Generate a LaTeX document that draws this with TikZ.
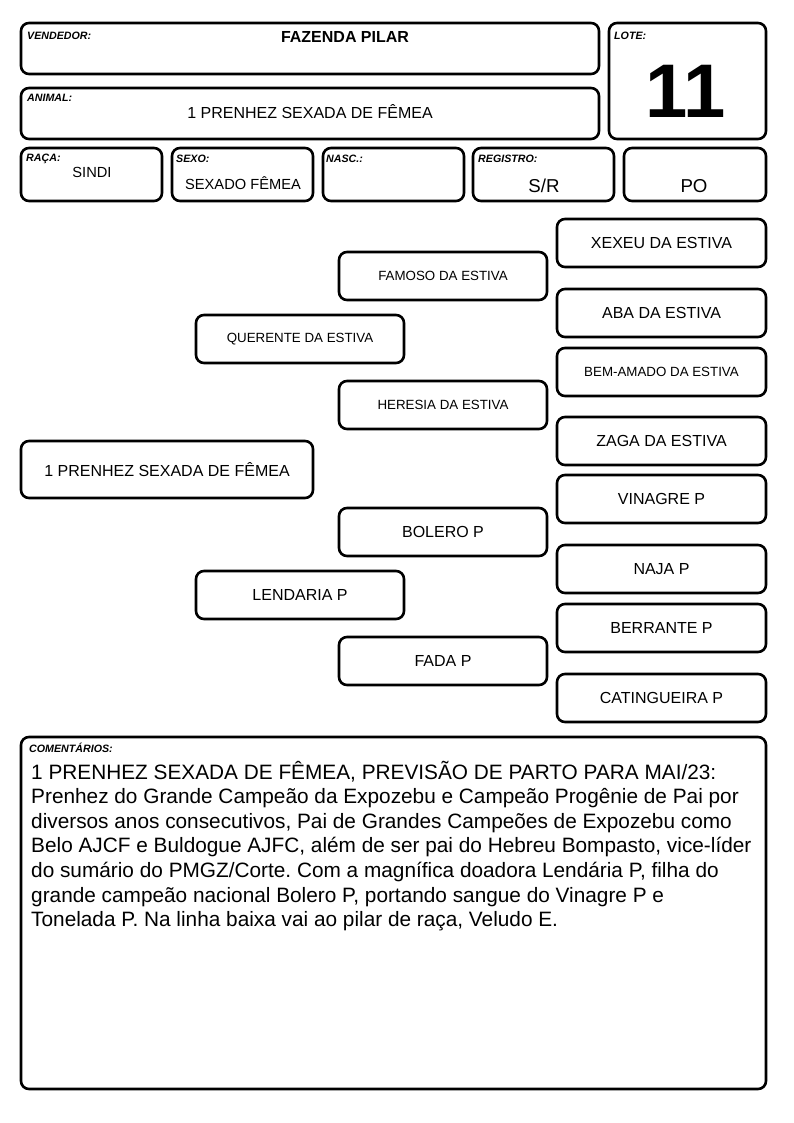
\documentclass[tikz,border=0pt]{standalone}
\usepackage{fontspec}
\setmainfont{Liberation Sans}
\frenchspacing
\newcommand{\fs}[1]{\fontsize{#1}{#1}\selectfont}
\tikzset{
  box/.style={draw, line width=2.6pt, rounded corners=8pt, inner sep=0pt},
  lbl/.style={anchor=base west, inner sep=0pt, font=\fs{10.67}\bfseries\itshape},
  val/.style={anchor=base, inner sep=0pt},
  com/.style={anchor=base west, inner sep=0pt, font=\fontsize{20.8}{24.6}\selectfont},
  big/.style={font=\fs{16}},
  small/.style={font=\fs{13.33}}
}
% \pbox[style]{name}{x1}{y1}{x2}{y2}{text}
\newcommand{\pbox}[7][]{%
  \node[box,#1,minimum width={(#5-#3)*1pt},minimum height={(#6-#4)*1pt}] (#2) at ({(#3+#5)/2},{(#4+#6)/2}) {#7};}
\begin{document}
\begin{tikzpicture}[x=1pt,y=-1pt]
\useasboundingbox (0,0) rectangle (794,1123);
% header
\pbox{vend}{21}{23}{599}{74}{}
\pbox{animal}{21}{88}{599}{139}{}
\pbox{lote}{609}{23}{766}{139}{}
\pbox{raca}{21}{148}{162}{201}{}
\pbox{sexo}{172}{148}{313}{201}{}
\pbox{nasc}{323}{148}{464}{201}{}
\pbox{reg}{473}{148}{614}{201}{}
\pbox{po}{624}{148}{766}{201}{}
\node[lbl] (lvend) at (27,39.5) {VENDEDOR:};
\node[val,font=\fs{16}\bfseries] (tvend) at (345,43) {FAZENDA PILAR};
\node[lbl] (lanimal) at (27,102) {ANIMAL:};
\node[val,font=\fs{16}] (tanimal) at (310,119) {1 PRENHEZ SEXADA DE FÊMEA};
\node[lbl] (llote) at (614,39.5) {LOTE:};
\node[val,font=\fs{76}\bfseries] (tlote) at (686,118) {11};
\node[lbl] (lraca) at (26,162) {RAÇA:};
\node[val,font=\fs{14.67}] (traca) at (92,178) {SINDI};
\node[lbl] (lsexo) at (176,163) {SEXO:};
\node[val,font=\fs{14.67}] (tsexo) at (243,190) {SEXADO FÊMEA};
\node[lbl] (lnasc) at (326,163) {NASC.:};
\node[lbl] (lreg) at (478,163) {REGISTRO:};
\node[val,font=\fs{18.67}] (treg) at (544,193) {S/R};
\node[val,font=\fs{18.67}] (tpo) at (694,193) {PO};
% pedigree
\pbox[big]{p0}{21}{441}{313}{498}{1 PRENHEZ SEXADA DE FÊMEA}
\pbox[small]{p1}{196}{315}{404}{363}{QUERENTE DA ESTIVA}
\pbox[big]{p2}{196}{571}{404}{619}{LENDARIA P}
\pbox[small]{p3}{339}{252}{547}{300}{FAMOSO DA ESTIVA}
\pbox[small]{p4}{339}{381}{547}{429}{HERESIA DA ESTIVA}
\pbox[big]{p5}{339}{508}{547}{556}{BOLERO P}
\pbox[big]{p6}{339}{637}{547}{685}{FADA P}
\pbox[big]{q1}{557}{219}{766}{267}{XEXEU DA ESTIVA}
\pbox[big]{q2}{557}{289}{766}{337}{ABA DA ESTIVA}
\pbox[small]{q3}{557}{348}{766}{396}{BEM-AMADO DA ESTIVA}
\pbox[big]{q4}{557}{417}{766}{465}{ZAGA DA ESTIVA}
\pbox[big]{q5}{557}{475}{766}{523}{VINAGRE P}
\pbox[big]{q6}{557}{545}{766}{593}{NAJA P}
\pbox[big]{q7}{557}{604}{766}{652}{BERRANTE P}
\pbox[big]{q8}{557}{674}{766}{722}{CATINGUEIRA P}
% comments
\pbox{combox}{21}{737}{766}{1089}{}
\node[lbl] (lcom) at (29,752) {COMENTÁRIOS:};
\node[com] (c1) at (31,779) {1 PRENHEZ SEXADA DE FÊMEA, PREVISÃO DE PARTO PARA MAI/23:};
\node[com] (c2) at (31,803.6) {Prenhez do Grande Campeão da Expozebu e Campeão Progênie de Pai por};
\node[com] (c3) at (31,828.2) {diversos anos consecutivos, Pai de Grandes Campeões de Expozebu como};
\node[com] (c4) at (31,852.8) {Belo AJCF e Buldogue AJFC, além de ser pai do Hebreu Bompasto, vice-líder};
\node[com] (c5) at (31,877.4) {do sumário do PMGZ/Corte. Com a magnífica doadora Lendária P, filha do};
\node[com] (c6) at (31,902) {grande campeão nacional Bolero P, portando sangue do Vinagre P e};
\node[com] (c7) at (31,926.6) {Tonelada P. Na linha baixa vai ao pilar de raça, Veludo E.};
\end{tikzpicture}
\end{document}
